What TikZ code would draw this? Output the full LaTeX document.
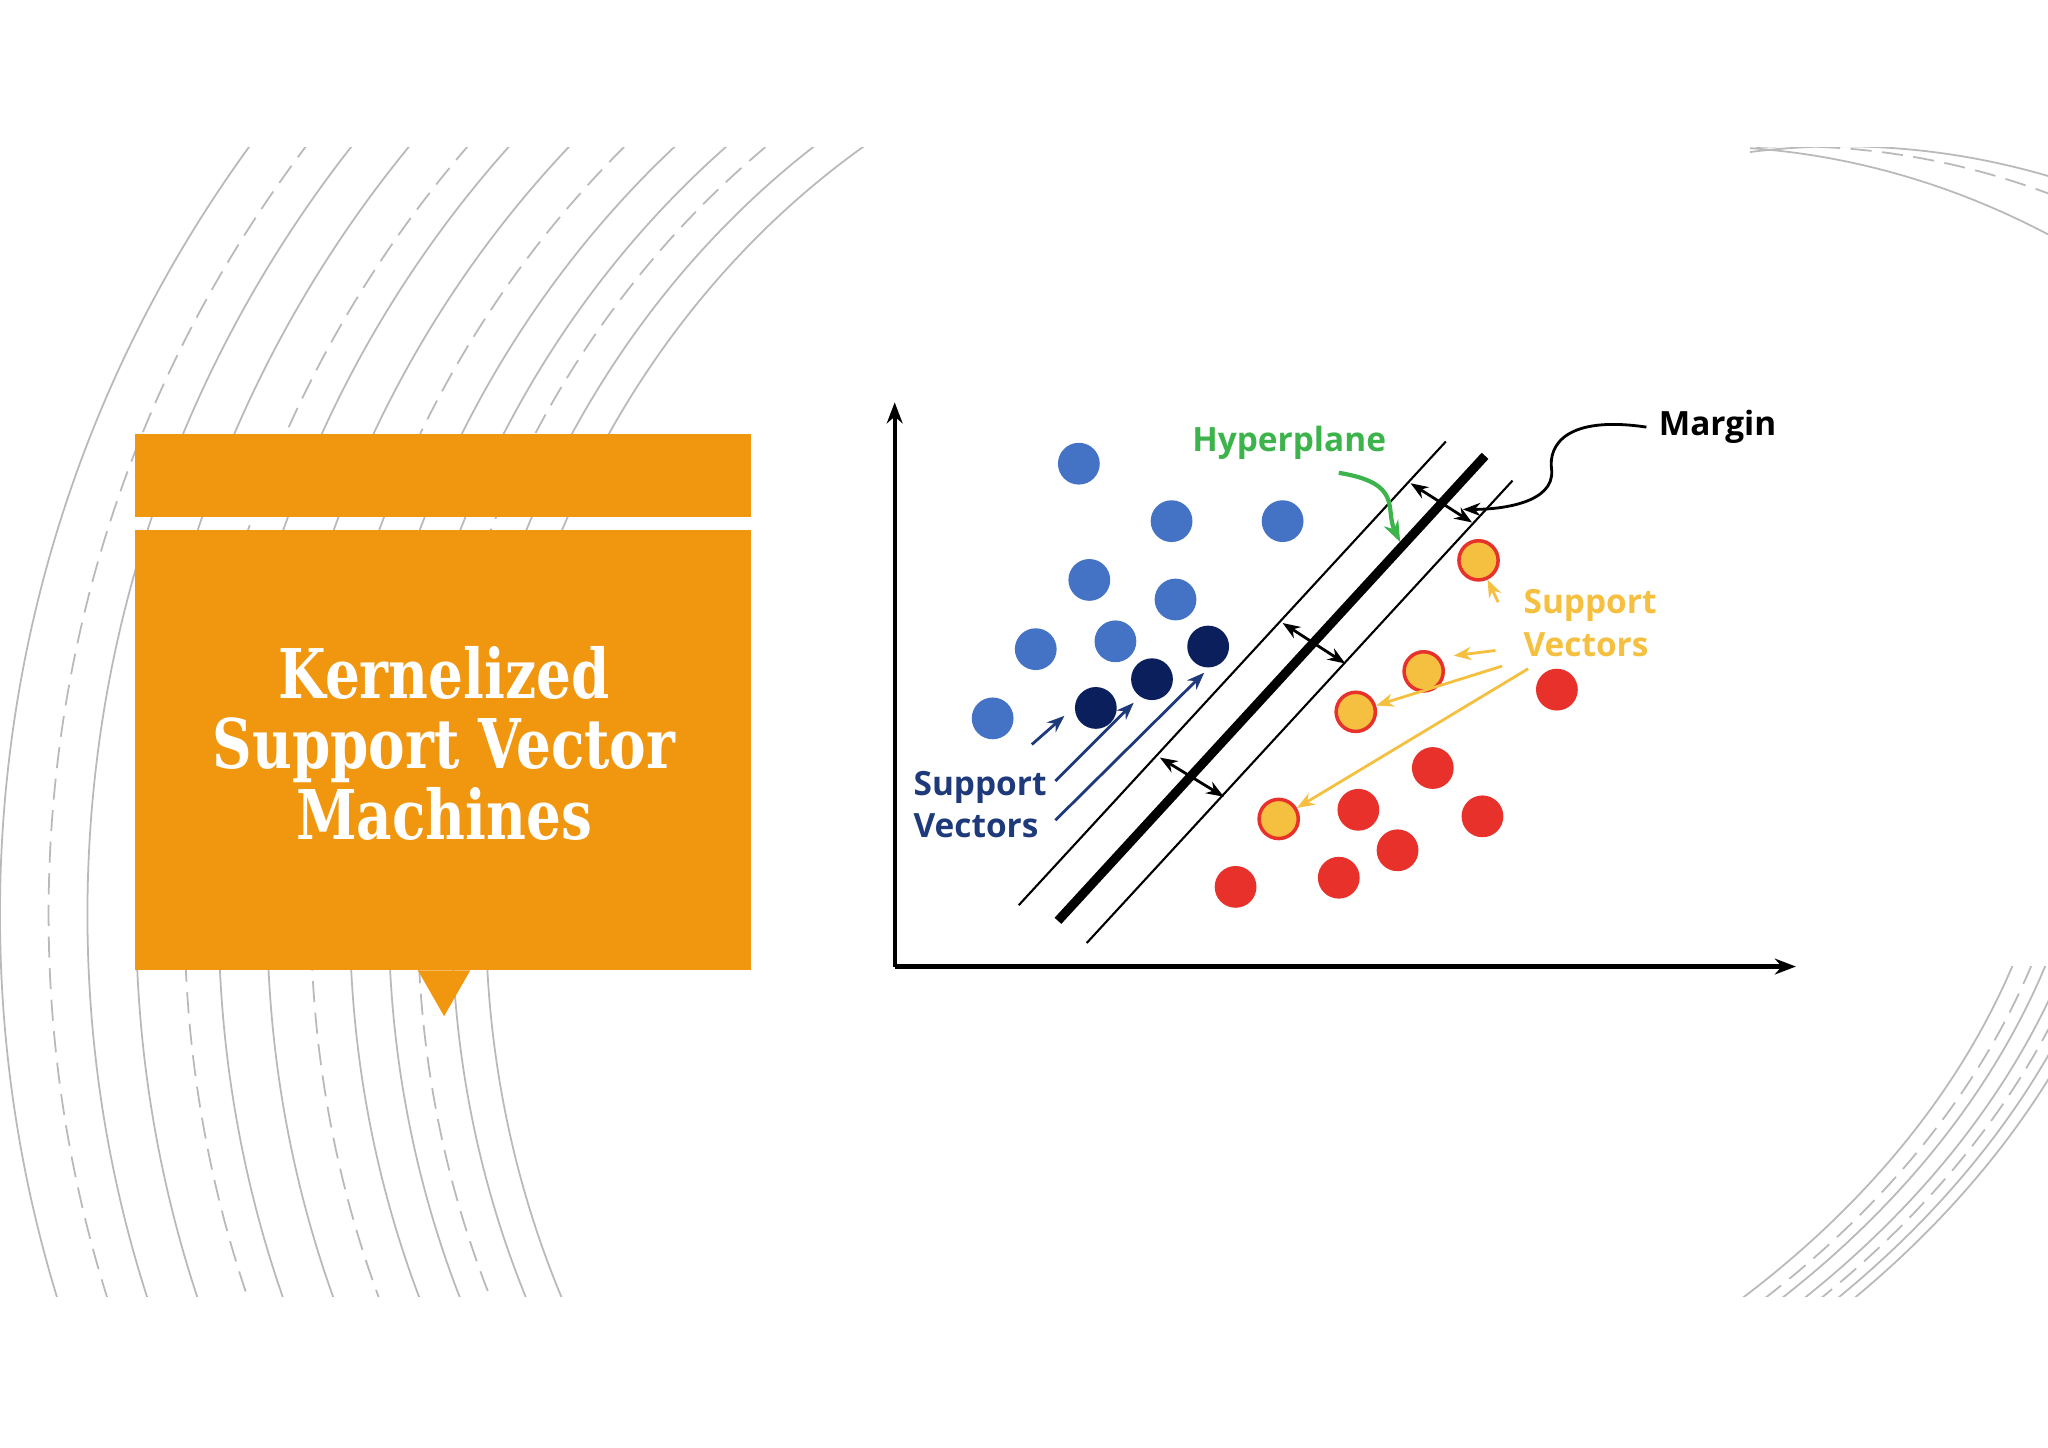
\documentclass[tikz,border=0pt]{standalone}
\usepackage{fontspec}
\setmainfont{DejaVu Serif}
\newfontfamily\tfont[FakeStretch=0.8]{DejaVu Serif}
\newfontfamily\lab{Open Sans}
\usetikzlibrary{arrows.meta}
\definecolor{orng}{HTML}{F0960F}
\definecolor{bdot}{HTML}{4472C4}
\definecolor{ndot}{HTML}{0A1F5C}
\definecolor{rdot}{HTML}{E8312A}
\definecolor{ydot}{HTML}{F5C040}
\definecolor{grn}{HTML}{3CB44B}
\definecolor{navy}{HTML}{1F3A7A}
\begin{document}
\begin{tikzpicture}[x=0.013061cm,y=-0.013061cm,
  arc/.style={gray!55,line width=0.5pt},
  arcd/.style={gray!55,line width=0.5pt,dash pattern=on 6pt off 3pt},
  dotb/.style={circle,fill=bdot,minimum size=32*0.013061cm,inner sep=0},
  dotn/.style={circle,fill=ndot,minimum size=32*0.013061cm,inner sep=0},
  dotr/.style={circle,fill=rdot,minimum size=32*0.013061cm,inner sep=0},
  doty/.style={circle,fill=ydot,draw=rdot,line width=1pt,minimum size=30*0.013061cm,inner sep=0},
  lbl/.style={font=\lab\bfseries\fontsize{9.5}{12}\selectfont,align=left},
  dbl/.style={{Stealth[length=5pt]}-{Stealth[length=5pt]},line width=0.8pt}]
\useasboundingbox (0,0) rectangle (1568,1108.6);
\fill[white] (0,0) rectangle (1568,1108.6);
\begin{scope}
\clip (0,113) rectangle (700,993);
\foreach \t/\s in {0/arc,0.07/arc,0.14/arcd,0.2/arc,0.28/arc,0.36/arcd,0.45/arc,0.55/arc,0.62/arcd,0.72/arc,0.82/arc,0.9/arcd,1/arc}{
  \draw[\s] (1000,700) ellipse ({628+372*\t} and {698+302*\t});
}
\end{scope}
\begin{scope}
\clip (1290,740) rectangle (1568,993);
\foreach \t/\s in {0/arc,0.2/arcd,0.35/arc,0.55/arc,0.7/arcd,0.85/arc,1/arc}{
  \draw[\s] (700,550) ellipse ({880+70*\t} and {640+40*\t});
}
\end{scope}
\begin{scope}
\clip (1340,113) rectangle (1568,260);
\foreach \dx/\s in {0/arc,70/arcd,110/arc}{
  \draw[\s] (1300+\dx,1000) ellipse (700 and 888);
}
\end{scope}
% orange box
\fill[orng] (103,332) rectangle (575,396);
\fill[orng] (103,406) rectangle (575,743);
\fill[orng] (320,743) -- (360,743) -- (340,778) -- cycle;
\node[text=white,font=\tfont\bfseries\fontsize{19.5}{20}\selectfont,align=center] (title) at (340,569)
  {Kernelized\\Support Vector\\Machines};
% axes
\coordinate (o) at (685,740);
\coordinate (ytop) at (685,308);
\coordinate (xend) at (1375,740);
\draw[line width=1.2pt,-{Stealth[length=6pt]}] (o) -- (ytop);
\draw[line width=1.2pt,-{Stealth[length=6pt]}] (o) -- (xend);
% lines
\coordinate (h1) at (810,705); \coordinate (h2) at (1137,349);
\coordinate (a1) at (780,693); \coordinate (a2) at (1107,338);
\coordinate (b1) at (832,722); \coordinate (b2) at (1158,368);
\draw[line width=2.6pt] (h1) -- (h2);
\draw[line width=0.6pt] (a1) -- (a2);
\draw[line width=0.6pt] (b1) -- (b2);
\coordinate (m1a) at (1080,370); \coordinate (m1b) at (1127,400);
\coordinate (m2a) at (982,477); \coordinate (m2b) at (1030,508);
\coordinate (m3a) at (888,580); \coordinate (m3b) at (937,610);
\draw[dbl] (m1a) -- (m1b);
\draw[dbl] (m2a) -- (m2b);
\draw[dbl] (m3a) -- (m3b);
% dots
\foreach \x/\y [count=\i] in {826/355,897/399,982/399,834/444,900/459,793/497,854/491,760/550}
  \node[dotb] (b\i) at (\x,\y) {};
\foreach \x/\y [count=\i] in {925/495,882/520,839/542}
  \node[dotn] (n\i) at (\x,\y) {};
\foreach \x/\y [count=\i] in {1192/528,1097/588,1040/620,1135/625,1070/651,1025/672,946/679}
  \node[dotr] (r\i) at (\x,\y) {};
\foreach \x/\y [count=\i] in {1132/429,1090/514,1038/545,979/627}
  \node[doty] (y\i) at (\x,\y) {};
% labels
\node[lbl,text=grn] (hyp) at (987,339) {Hyperplane};
\draw[grn,line width=1.2pt,-{Stealth[length=6pt]}] (1025,362) .. controls (1075,370) and (1060,390) .. (1072,415);
\node[lbl,text=black] (mar) at (1315,327) {Margin};
\draw[black,line width=0.8pt,-{Stealth[length=5pt]}] (mar.west) .. controls (1200,318) and (1185,340) .. (1188,360) .. controls (1190,385) and (1150,390) .. (1120,390);
\node[lbl,text=ydot,anchor=west] (svy) at (1157,477) {Support\\Vectors};
\draw[ydot,line width=0.8pt,-{Stealth[length=5pt]}] (1147,461) -- (y1);
\draw[ydot,line width=0.8pt,-{Stealth[length=5pt]}] (1145,498) -- (1113,502);
\draw[ydot,line width=0.8pt,-{Stealth[length=5pt]}] (1150,510) -- (y3);
\draw[ydot,line width=0.8pt,-{Stealth[length=5pt]}] (1170,512) -- (y4);
\node[lbl,text=navy,anchor=west] (svn) at (690,616) {Support\\Vectors};
\draw[navy,line width=0.8pt,-{Stealth[length=5pt]}] (790,570) -- (815,548);
\draw[navy,line width=0.8pt,-{Stealth[length=5pt]}] (808,598) -- (868,538);
\draw[navy,line width=0.8pt,-{Stealth[length=5pt]}] (808,628) -- (922,515);
\end{tikzpicture}
\end{document}
